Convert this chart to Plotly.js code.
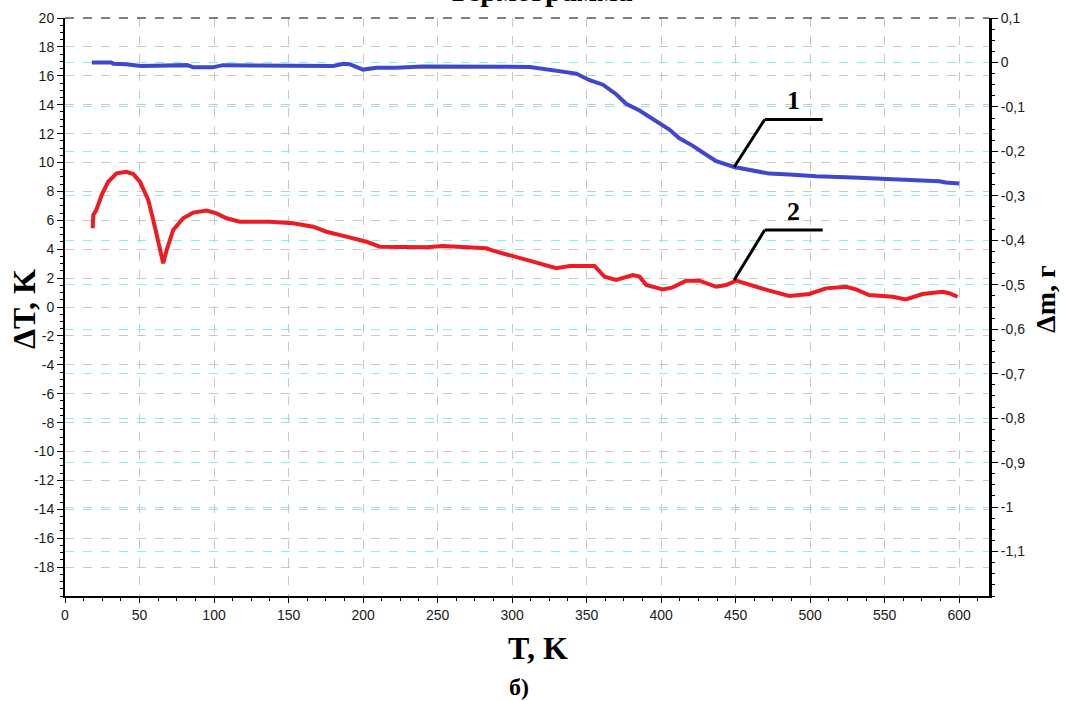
<!DOCTYPE html>
<html>
<head>
<meta charset="utf-8">
<script src="https://cdn.plot.ly/plotly-3.0.1.min.js"></script>
<style>html,body{margin:0;padding:0;background:#fff;}#chart{width:1065px;height:701px;}</style>
</head>
<body>
<div id="chart"></div>
<script>
// Curve 1: mass change (right axis), Δm, g
const tgT = [18,31,32.5,41,51,64,68,82,86,99,106,119,122,180,187,191,200,209,222,240,312,330,343,352,361,370,376.5,385.5,397,405.5,412,421,430,437,449,459,472.5,486,504,528.5,560,586.5,591,600];
const tgM = [0,0,-0.003,-0.004,-0.008,-0.007,-0.006,-0.006,-0.011,-0.011,-0.006,-0.006,-0.008,-0.008,-0.003,-0.004,-0.016,-0.012,-0.012,-0.009,-0.010,-0.020,-0.025,-0.040,-0.050,-0.072,-0.093,-0.108,-0.132,-0.151,-0.170,-0.187,-0.207,-0.222,-0.235,-0.242,-0.250,-0.252,-0.256,-0.259,-0.263,-0.267,-0.270,-0.272];

// Curve 2: DTA signal (left axis), ΔT, K
const dtaT = [18.6,19,21,24.6,29,34.6,41.3,45.8,50.3,55.9,60.3,63.7,65.9,68.2,72.6,79.3,86,95,101.7,108.4,117.3,137.4,153,166.5,175.4,188.8,202.2,211.2,242.5,253.6,269.3,282.7,287.1,298.3,314,329.6,338.6,355.3,362,369.8,381,385.5,390,401.1,407.8,416.8,425.7,436.9,443.6,450.3,459.2,472.6,486,499.4,510.6,524,530.7,539.6,555.3,564.2,575.4,588.8,593.3,598.9];
const dtaK = [5.45,6.37,6.71,7.75,8.67,9.25,9.36,9.2,8.67,7.4,5.56,4.17,3.02,3.94,5.33,6.14,6.53,6.67,6.48,6.14,5.9,5.9,5.79,5.56,5.21,4.87,4.52,4.17,4.13,4.22,4.17,4.06,3.9,3.6,3.14,2.68,2.84,2.84,2.1,1.87,2.21,2.1,1.52,1.22,1.36,1.82,1.82,1.4,1.52,1.82,1.52,1.13,0.76,0.9,1.29,1.4,1.22,0.83,0.71,0.53,0.9,1.06,0.95,0.71];

// Tick labels
const xTickVals = [0,50,100,150,200,250,300,350,400,450,500,550,600];
const xTickText = ['0','50','100','150','200','250','300','350','400','450','500','550','600'];
const yTickVals = [-18,-16,-14,-12,-10,-8,-6,-4,-2,0,2,4,6,8,10,12,14,16,18,20];
const yTickText = ['-18','-16','-14','-12','-10','-8','-6','-4','-2','0','2','4','6','8','10','12','14','16','18','20'];
const y2TickVals = [-1.1,-1.0,-0.9,-0.8,-0.7,-0.6,-0.5,-0.4,-0.3,-0.2,-0.1,0,0.1];
const y2TickText = ['-1,1','-1','-0,9','-0,8','-0,7','-0,6','-0,5','-0,4','-0,3','-0,2','-0,1','0','0,1'];

// Callout labels
const labelTexts = ['1','2'];
const labelAnchorT = 449;               // point on curves where leader lines start
const leaderY = [[9.69,12.98],[1.87,5.33]];

const tickFont = {family:'Liberation Sans, Arial, sans-serif', size:14, color:'#1a1a1a'};
const serifBold = 'Liberation Serif, Times New Roman, serif';

const traces = [
  {x: tgT, y: tgM, yaxis:'y2', type:'scatter', mode:'lines', line:{color:'#3f48cc', width:4}, hoverinfo:'skip'},
  {x: dtaT, y: dtaK, yaxis:'y', type:'scatter', mode:'lines', line:{color:'#ed1c24', width:4}, hoverinfo:'skip'}
];

const shapes = [
  {type:'line', xref:'paper', yref:'paper', x0:0, x1:1, y0:1, y1:1, line:{color:'#000', width:1, dash:'dash'}}
];
const annotations = [];
leaderY.forEach((ly,i)=>{
  const tMid = labelAnchorT + 20.5, tEnd = labelAnchorT + 59.4;
  shapes.push({type:'line', xref:'x', yref:'y', x0:labelAnchorT, y0:ly[0], x1:tMid, y1:ly[1], line:{color:'#000', width:3}});
  shapes.push({type:'line', xref:'x', yref:'y', x0:tMid, y0:ly[1], x1:tEnd, y1:ly[1], line:{color:'#000', width:3}});
  annotations.push({xref:'x', yref:'y', x:(tMid+tEnd)/2, y:ly[1], yanchor:'bottom', yshift:2, text:'<b>'+labelTexts[i]+'</b>', showarrow:false, font:{family:serifBold, size:26, color:'#000'}});
});

annotations.push({xref:'paper', yref:'paper', x:0.514, y:1.048, xanchor:'center', yanchor:'middle', text:'<b>Термограмма</b>', showarrow:false, font:{family:serifBold, size:30, color:'#000'}});
annotations.push({xref:'paper', yref:'paper', x:-0.0444, y:0.4965, xanchor:'center', yanchor:'middle', textangle:-90, text:'<b>ΔT, K</b>', showarrow:false, font:{family:serifBold, size:32, color:'#000'}});
annotations.push({xref:'paper', yref:'paper', x:1.0617, y:0.514, xanchor:'center', yanchor:'middle', textangle:-90, text:'<b>Δm, г</b>', showarrow:false, font:{family:serifBold, size:28, color:'#000'}});
annotations.push({xref:'paper', yref:'paper', x:0.512, y:-0.09, xanchor:'center', yanchor:'middle', text:'<b>T, K</b>', showarrow:false, font:{family:serifBold, size:32, color:'#000'}});
annotations.push({xref:'paper', yref:'paper', x:0.491, y:-0.1574, xanchor:'center', yanchor:'middle', text:'<b>б)</b>', showarrow:false, font:{family:serifBold, size:24, color:'#000'}});

const layout = {
  width:1065, height:701,
  margin:{l:65, r:76, t:18, b:105},
  paper_bgcolor:'#fff', plot_bgcolor:'#fff',
  showlegend:false,
  xaxis:{range:[0,620], tickmode:'array', tickvals:xTickVals, ticktext:xTickText,
    ticks:'outside', ticklen:5, tickwidth:1, tickcolor:'#000',
    showgrid:true, gridcolor:'#c8c8c8', griddash:'dash', gridwidth:1,
    showline:true, linecolor:'#000', linewidth:2, zeroline:false, tickfont:tickFont,
    minor:{tickmode:'linear', tick0:0, dtick:12.5, ticks:'outside', ticklen:3, tickcolor:'#000', showgrid:false}},
  yaxis:{range:[-20,20], tickmode:'array', tickvals:yTickVals, ticktext:yTickText,
    ticks:'outside', ticklen:6, tickwidth:1, tickcolor:'#000',
    showgrid:true, gridcolor:'#c8c8c8', griddash:'dash', gridwidth:1,
    showline:true, linecolor:'#000', linewidth:2, zeroline:false, tickfont:tickFont,
    minor:{tickmode:'linear', tick0:0, dtick:0.5, ticks:'outside', ticklen:3, tickcolor:'#000', showgrid:false}},
  yaxis2:{range:[-1.2,0.1], overlaying:'y', side:'right', tickmode:'array', tickvals:y2TickVals, ticktext:y2TickText,
    ticks:'outside', ticklen:6, tickwidth:1, tickcolor:'#000',
    showgrid:true, gridcolor:'#88eeee', griddash:'dash', gridwidth:1,
    showline:true, linecolor:'#000', linewidth:3, zeroline:false, tickfont:tickFont,
    minor:{tickmode:'linear', tick0:0, dtick:0.025, ticks:'outside', ticklen:3, tickcolor:'#000', showgrid:false}},
  shapes: shapes,
  annotations: annotations
};

Plotly.newPlot('chart', traces, layout, {displayModeBar:false, staticPlot:true});
</script>
</body>
</html>
